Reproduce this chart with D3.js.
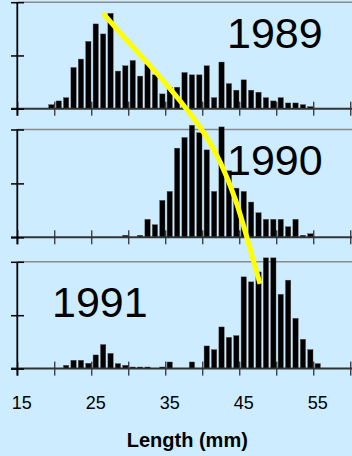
<!DOCTYPE html>
<html>
<head>
<meta charset="utf-8">
<script src="https://cdn.jsdelivr.net/npm/d3@7"></script>
<style>
  body { margin: 0; background: #cdecff; }
  svg { display: block; font-family: "Liberation Sans", Arial, sans-serif; }
</style>
</head>
<body>
<div id="graph"></div>
<script>
// length classes (mm, lower edge of 1 mm bin) and relative frequency (top line = 100)
const years = ["1989", "1990", "1991"];

const bins1989 = [19, 20, 21, 22, 23, 24, 25, 26, 27, 28, 29, 30, 31, 32, 33, 34, 35, 36,
                  37, 38, 39, 40, 41, 42, 43, 44, 45, 46, 47, 48, 49, 50, 51, 52, 53, 54];
const freq1989 = [3.8, 7.3, 10.4, 38.7, 46.6, 63.2, 79.6, 70.2, 89.6, 35.3, 40.3, 45.3, 30.6, 41.9, 31.8, 13.9, 20.2, 20.2,
                  34, 31.8, 31.8, 40.3, 10.4, 43.8, 23.6, 17.4, 27.1, 17.4, 15.5, 10.4, 7.3, 10.4, 5.4, 5.4, 3.8, 1.9];

const bins1990 = [29, 31, 32, 33, 34, 35, 36, 37, 38, 39, 40, 41, 42,
                  43, 44, 45, 46, 47, 48, 49, 50, 51, 52, 53, 54];
const freq1990 = [1.9, 1.9, 16.7, 11.7, 34.3, 42.6, 82.7, 92.6, 104, 97, 81.1, 42.6, 102.4,
                  61.7, 45.6, 42.6, 32.7, 22.8, 16.7, 16.7, 16.7, 9.8, 16.7, 1.9, 3.3];

const bins1991 = [21, 22, 23, 24, 25, 26, 27, 28, 29, 30, 31, 32, 34, 35, 38,
                  40, 41, 42, 43, 44, 45, 46, 47, 48, 49, 50, 51, 52, 53, 54, 55];
const freq1991 = [3.1, 7.8, 7.8, 5.0, 12.8, 22.5, 14.3, 4.7, 3.1, 1.5, 1.5, 1.5, 1.5, 6.2, 6.2,
                  21.2, 17.8, 39, 29.3, 30.9, 85.9, 81.2, 90.5, 103.7, 103.7, 69.6, 82.8, 47.1, 27.5, 17.8, 4.7];

const xTicks = [15, 20, 25, 30, 35, 40, 45, 50, 55, 60];
const xLabels = [15, 25, 35, 45, 55];
const yTicks = [0, 50, 100];

// growth line (mm, % of the stacked plot height)
const growthLen = [26.6, 29.7, 32.9, 35.9, 38.3, 40.4, 42.4, 44.6, 46.2, 47.8];
const growthPos = [96.9, 89.7, 82.8, 75.8, 69.8, 64.0, 57.0, 46.1, 34.6, 23.2];

const width = 352, height = 456;
const panelTop = [2.2, 129.5, 261.8];
const panelBase = [108.7, 237.3, 368.6];
const yearPos = [[227, 48.3], [227, 175], [52, 316.7]];
const series = [[bins1989, freq1989], [bins1990, freq1990], [bins1991, freq1991]];

const svg = d3.select("#graph").append("svg")
    .attr("width", width)
    .attr("height", height);

svg.append("rect").attr("width", width).attr("height", height).attr("fill", "#cdecff");

const x = d3.scaleLinear().domain([15, 60]).range([17.3, 350.3]);
const barW = x(15.72) - x(15);

years.forEach((yr, i) => {
    const y = d3.scaleLinear().domain([0, 100]).range([panelBase[i], panelTop[i]]);
    const g = svg.append("g");

    // top frame line
    g.append("line")
        .attr("x1", x(15)).attr("x2", width)
        .attr("y1", y(100)).attr("y2", y(100))
        .attr("stroke", "#8a8a8a").attr("stroke-width", 1.5);

    // bars
    const [bins, freq] = series[i];
    g.selectAll("rect.bar")
        .data(bins.map((b, j) => ({ b: b, v: freq[j] })))
        .join("rect")
        .attr("class", "bar")
        .attr("x", d => x(d.b + 0.6) - barW / 2)
        .attr("width", barW)
        .attr("y", d => y(d.v))
        .attr("height", d => y(0) - y(d.v))
        .attr("fill", "#000")
        .attr("stroke", "#555")
        .attr("stroke-width", 0.4);

    // x ticks crossing the base line
    g.append("g")
        .attr("transform", `translate(0,${y(0) - 7})`)
        .call(d3.axisBottom(x).tickValues(xTicks).tickSize(14).tickFormat(""))
        .call(a => a.select(".domain").remove())
        .call(a => a.selectAll("line").attr("stroke", "#000").attr("stroke-width", 1));

    // base line
    g.append("line")
        .attr("x1", 11).attr("x2", width)
        .attr("y1", y(0)).attr("y2", y(0))
        .attr("stroke", "#333").attr("stroke-width", 2);

    // y axis
    g.append("g")
        .attr("transform", `translate(24,0)`)
        .call(d3.axisLeft(y).tickValues(yTicks).tickSize(13).tickFormat(""))
        .call(a => a.select(".domain").remove())
        .call(a => a.selectAll("line").attr("stroke", "#000").attr("stroke-width", 1.5));

    g.append("line")
        .attr("x1", x(15)).attr("x2", x(15))
        .attr("y1", y(100)).attr("y2", y(0) + 7)
        .attr("stroke", "#000").attr("stroke-width", 1.8);

    g.append("text")
        .attr("x", yearPos[i][0])
        .attr("y", yearPos[i][1])
        .attr("fill", "#000")
        .style("font-size", "43px")
        .text(yr);
});

// tick labels under the last panel
svg.selectAll("text.xlab")
    .data(xLabels)
    .join("text")
    .attr("class", "xlab")
    .attr("x", d => x(d + 0.6))
    .attr("y", 409.3)
    .attr("text-anchor", "middle")
    .style("font-size", "18px")
    .text(d => d);

svg.append("text")
    .attr("x", 187.3)
    .attr("y", 447.3)
    .attr("text-anchor", "middle")
    .style("font-size", "20px")
    .style("font-weight", "bold")
    .text("Length (mm)");

// growth trajectory
const yAll = d3.scaleLinear().domain([0, 100]).range([369, 2]);
const line = d3.line()
    .x(d => x(d[0]))
    .y(d => yAll(d[1]))
    .curve(d3.curveBasis);

svg.append("path")
    .datum(growthLen.map((l, j) => [l, growthPos[j]]))
    .attr("d", line)
    .attr("fill", "none")
    .attr("stroke", "#ffff00")
    .attr("stroke-width", 5);
</script>
</body>
</html>
